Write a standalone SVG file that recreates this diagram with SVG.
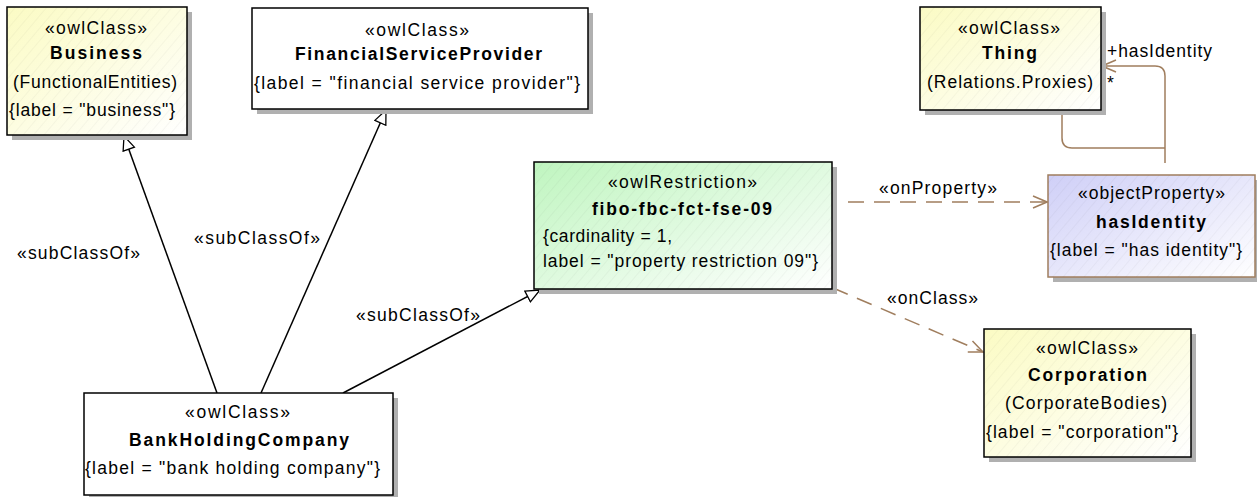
<svg xmlns="http://www.w3.org/2000/svg" width="1257" height="497" viewBox="0 0 1257 497">
<style>
text{font-family:"Liberation Sans",Arial,sans-serif;font-size:17.5px;fill:#000}
.b{font-weight:bold}
.box{stroke:#000;stroke-width:1.5}
.shadow{fill:#b0b0b0}
.gen{stroke:#000;stroke-width:1.5;fill:none}
.dep{stroke:#a07e5e;stroke-width:1.5;fill:none;stroke-dasharray:16,10}
.assoc{stroke:#a07e5e;stroke-width:1.5;fill:none}
</style>
<defs>
<linearGradient id="gy" x1="0" y1="0" x2="1" y2="1"><stop offset="0" stop-color="#fbfbc4"/><stop offset="1" stop-color="#ffffff"/></linearGradient>
<linearGradient id="gg" x1="0" y1="0" x2="1" y2="1"><stop offset="0" stop-color="#bff5bf"/><stop offset="1" stop-color="#ffffff"/></linearGradient>
<linearGradient id="gb" x1="0" y1="0" x2="1" y2="1"><stop offset="0" stop-color="#cfcff7"/><stop offset="1" stop-color="#ffffff"/></linearGradient>
<pattern id="hatch" width="8" height="8" patternUnits="userSpaceOnUse" patternTransform="rotate(40)"><line x1="0" y1="0" x2="0" y2="8" stroke="#000" stroke-opacity="0.06" stroke-width="1"/></pattern>
<marker id="tri" markerWidth="16" markerHeight="14" refX="15" refY="7" orient="auto" markerUnits="userSpaceOnUse"><path d="M1,1 L15,7 L1,13 Z" fill="#fff" stroke="#000" stroke-width="1.3"/></marker>
<marker id="open" markerWidth="16" markerHeight="14" refX="15" refY="7" orient="auto" markerUnits="userSpaceOnUse"><path d="M1,1 L15,7 L1,13" fill="none" stroke="#a07e5e" stroke-width="1.5"/></marker>
</defs>

<g id="connectors">
<path class="gen" d="M217,393 L124,136" marker-end="url(#tri)"/>
<path class="gen" d="M261,393 L386,110" marker-end="url(#tri)"/>
<path class="gen" d="M343,393 L540,290" marker-end="url(#tri)"/>
<text x="17" y="259" textLength="123" lengthAdjust="spacing">«subClassOf»</text>
<text x="194" y="244" textLength="126" lengthAdjust="spacing">«subClassOf»</text>
<text x="356" y="321" textLength="124" lengthAdjust="spacing">«subClassOf»</text>
<path class="dep" d="M848,202 L1047,202" marker-end="url(#open)"/>
<text x="879" y="194" textLength="118" lengthAdjust="spacing">«onProperty»</text>
<path class="dep" d="M833,288 L983,352" marker-end="url(#open)"/>
<text x="887" y="304" textLength="91" lengthAdjust="spacing">«onClass»</text>
<path class="assoc" d="M1165,163 L1165,76 Q1165,66 1155,66 L1102,66" marker-end="url(#open)"/>
<path class="assoc" d="M1062,110 L1062,138 Q1062,148 1072,148 L1165,148"/>
<text x="1107" y="57" textLength="105" lengthAdjust="spacing">+hasIdentity</text>
<text x="1107" y="89">*</text>
</g>

<g id="Business">
<rect class="shadow" x="12" y="12" width="180" height="128"/>
<rect class="box" x="7" y="7" width="180" height="128" fill="url(#gy)"/>
<rect x="7" y="7" width="180" height="128" fill="url(#hatch)"/>
<text x="45" y="34" textLength="102" lengthAdjust="spacing">«owlClass»</text>
<text class="b" x="50" y="59" textLength="92" lengthAdjust="spacing">Business</text>
<text x="13" y="88" textLength="164" lengthAdjust="spacing">(FunctionalEntities)</text>
<text x="9" y="116" textLength="166" lengthAdjust="spacing">{label = "business"}</text>
</g>

<g id="FinancialServiceProvider">
<rect class="shadow" x="257" y="13" width="336" height="101"/>
<rect class="box" x="252" y="8" width="336" height="101" fill="#fff"/>
<text x="365" y="36" textLength="104" lengthAdjust="spacing">«owlClass»</text>
<text class="b" x="295" y="60" textLength="247" lengthAdjust="spacing">FinancialServiceProvider</text>
<text x="254" y="89" textLength="326" lengthAdjust="spacing">{label = "financial service provider"}</text>
</g>

<g id="Thing">
<rect class="shadow" x="925" y="12" width="181" height="103"/>
<rect class="box" x="920" y="7" width="181" height="103" fill="url(#gy)"/>
<rect x="920" y="7" width="181" height="103" fill="url(#hatch)"/>
<text x="958" y="34" textLength="102" lengthAdjust="spacing">«owlClass»</text>
<text class="b" x="982" y="59" textLength="55" lengthAdjust="spacing">Thing</text>
<text x="927" y="88" textLength="166" lengthAdjust="spacing">(Relations.Proxies)</text>
</g>

<g id="hasIdentity">
<rect class="shadow" x="1053" y="180" width="204" height="102"/>
<rect x="1048" y="175" width="207" height="102" fill="url(#gb)" stroke="#a07e5e" stroke-width="1.5"/>
<rect x="1048" y="175" width="207" height="102" fill="url(#hatch)"/>
<text x="1078" y="199" textLength="147" lengthAdjust="spacing">«objectProperty»</text>
<text class="b" x="1096" y="228" textLength="110" lengthAdjust="spacing">hasIdentity</text>
<text x="1050" y="256" textLength="192" lengthAdjust="spacing">{label = "has identity"}</text>
</g>

<g id="fibo-fbc-fct-fse-09">
<rect class="shadow" x="539" y="167" width="298" height="127"/>
<rect class="box" x="534" y="162" width="298" height="127" fill="url(#gg)"/>
<rect x="534" y="162" width="298" height="127" fill="url(#hatch)"/>
<text x="608" y="188" textLength="149" lengthAdjust="spacing">«owlRestriction»</text>
<text class="b" x="592" y="215" textLength="180" lengthAdjust="spacing">fibo-fbc-fct-fse-09</text>
<text x="543" y="242" textLength="129" lengthAdjust="spacing">{cardinality = 1,</text>
<text x="543" y="267" textLength="275" lengthAdjust="spacing">label = "property restriction 09"}</text>
</g>

<g id="Corporation">
<rect class="shadow" x="989" y="334" width="207" height="128"/>
<rect class="box" x="984" y="329" width="207" height="128" fill="url(#gy)"/>
<rect x="984" y="329" width="207" height="128" fill="url(#hatch)"/>
<text x="1036" y="354" textLength="102" lengthAdjust="spacing">«owlClass»</text>
<text class="b" x="1028" y="381" textLength="119" lengthAdjust="spacing">Corporation</text>
<text x="1005" y="409" textLength="162" lengthAdjust="spacing">(CorporateBodies)</text>
<text x="986" y="438" textLength="192" lengthAdjust="spacing">{label = "corporation"}</text>
</g>

<g id="BankHoldingCompany">
<rect class="shadow" x="89" y="398" width="309" height="102"/>
<rect class="box" x="84" y="393" width="309" height="102" fill="#fff"/>
<text x="185" y="418" textLength="105" lengthAdjust="spacing">«owlClass»</text>
<text class="b" x="129" y="446" textLength="220" lengthAdjust="spacing">BankHoldingCompany</text>
<text x="85" y="474" textLength="295" lengthAdjust="spacing">{label = "bank holding company"}</text>
</g>
</svg>
